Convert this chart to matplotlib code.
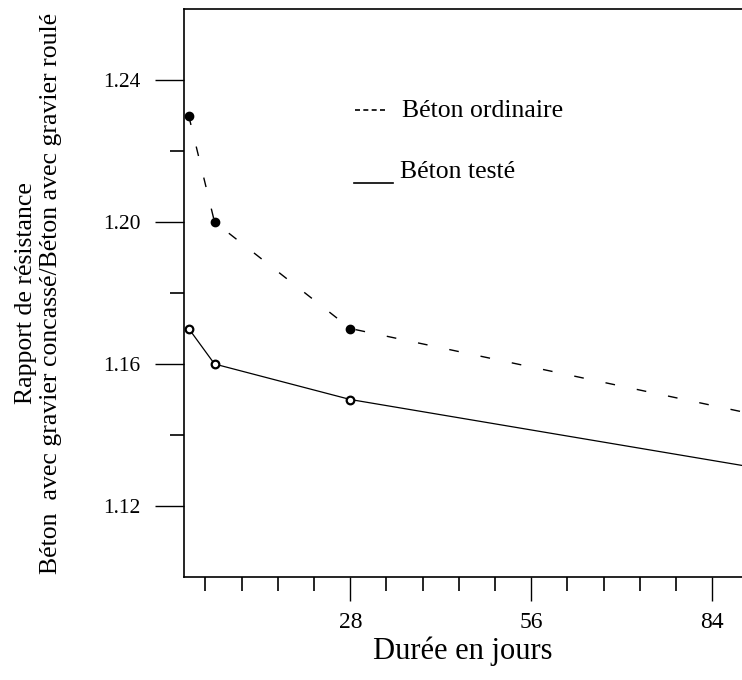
import matplotlib.pyplot as plt
from matplotlib.ticker import FixedLocator

plt.rcParams['font.family'] = ['Liberation Serif', 'DejaVu Serif']

# données
jours = [3, 7, 28, 90]
beton_ordinaire = [1.23, 1.20, 1.17, 1.146]
beton_teste = [1.17, 1.16, 1.15, 1.131]

W, H = 742, 680
fig = plt.figure(figsize=(W / 100, H / 100), dpi=100)

# axes en pixels : gauche 183.5, bas 577, haut 9, droite = bord de l'image
x0, y_bot, y_top = 183.5, 577, 9
ax = fig.add_axes([x0 / W, (H - y_bot) / H, (W - x0) / W, (y_bot - y_top) / H])

# Béton ordinaire : tirets + points pleins
ax.plot(jours, beton_ordinaire, color='black', lw=1.0, dashes=(7, 16),
        marker='o', markersize=6, mfc='black', mec='black', markevery=[0, 1, 2])
# Béton testé : trait plein + cercles vides
ax.plot(jours, beton_teste, color='black', lw=0.9,
        marker='o', markersize=5.5, mfc='white', mec='black', mew=1.6,
        markevery=[0, 1, 2])

ax.set_xlim(2.2, 88.6)
ax.set_ylim(1.10, 1.26)

ax.xaxis.set_major_locator(FixedLocator([28, 56, 84]))
ax.xaxis.set_minor_locator(FixedLocator([5.6 * k for k in range(1, 16) if k % 5]))
ax.yaxis.set_major_locator(FixedLocator([1.12, 1.16, 1.20, 1.24]))
ax.yaxis.set_minor_locator(FixedLocator([1.14, 1.18, 1.22]))
ax.set_yticklabels(['1.12', '1.16', '1.20', '1.24'])

ax.tick_params(axis='y', which='major', direction='out', length=21, width=1.0,
               labelsize=15.5, pad=10)
ax.tick_params(axis='y', which='minor', direction='out', length=10, width=1.2)
ax.tick_params(axis='x', which='major', direction='out', length=17, width=1.0,
               labelsize=17, pad=8)
ax.tick_params(axis='x', which='minor', direction='out', length=10, width=1.2)

ax.spines['right'].set_visible(False)
for s in ['left', 'bottom', 'top']:
    ax.spines[s].set_linewidth(1.2)

ax.set_xlabel('Durée en jours', fontsize=22, labelpad=3)
ax.set_ylabel('Rapport de résistance\nBéton  avec gravier concassé/Béton avec gravier roulé',
              fontsize=18.5, linespacing=1.2)
ax.yaxis.set_label_coords((62 - x0) / (W - x0), 0.5)

# légende dessinée à la main
def px(x, y):
    return x / W, 1 - y / H

fig.lines.append(plt.Line2D([px(355, 0)[0], px(388, 0)[0]], [px(0, 110)[1]] * 2,
                            transform=fig.transFigure, color='black', lw=1.2,
                            dashes=(3, 2)))
fig.text(*px(402, 117), 'Béton ordinaire', fontsize=18.5, va='baseline', ha='left')
fig.lines.append(plt.Line2D([px(354, 0)[0], px(393, 0)[0]], [px(0, 183)[1]] * 2,
                            transform=fig.transFigure, color='black', lw=1.2))
fig.text(*px(400, 178), 'Béton testé', fontsize=18.5, va='baseline', ha='left')

fig.savefig('out.png', dpi=100)
